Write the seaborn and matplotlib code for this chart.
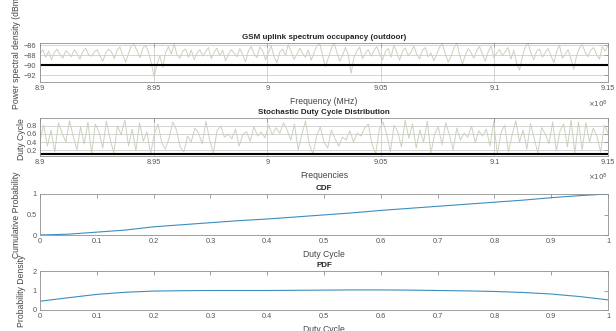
import numpy as np
import pandas as pd
import matplotlib
matplotlib.use("Agg")
import matplotlib.pyplot as plt
import seaborn as sns

# Measured power spectral density across the GSM uplink band (dBm)
psd_dbm = [
    -87.8, -86.9, -88.4, -87.2, -88.9, -87.5, -86.8, -87.9, -88.6, -87.1, -87.6, -88.3, -86.9, -87.7, -88.8, -87.3, -86.6, -87.9, -88.2, -87.4,
    -86.9, -88.1, -89.2, -87.6, -86.8, -87.3, -88.7, -87.0, -86.4, -88.0, -89.4, -87.7, -86.2, -85.9, -87.1, -88.5, -86.7, -86.0, -87.4, -89.6,
    -92.3, -89.8, -88.1, -90.4, -87.5, -86.3, -87.8, -85.8, -87.9, -88.6, -87.2, -86.8, -88.4, -87.0, -88.9, -87.6, -86.9, -88.2, -87.3, -86.5,
    -88.7, -87.4, -86.6, -88.1, -87.0, -89.1, -87.8, -86.9, -87.6, -88.3, -86.7, -87.9, -89.3, -87.2, -86.3, -87.7, -88.5, -86.4, -87.1, -88.9,
    -87.6, -86.1, -88.3, -89.5, -87.4, -86.8, -88.0, -85.9, -87.3, -88.8, -87.9, -86.6, -87.7, -88.4, -87.0, -89.0, -87.5, -86.2, -85.7, -88.1,
    -90.3, -88.6, -86.8, -85.6, -87.4, -89.2, -88.0, -86.5, -87.9, -91.6, -88.4, -87.2, -86.4, -88.7, -87.6, -86.9, -88.2, -87.1, -86.3, -87.8,
    -88.9, -87.3, -86.7, -88.4, -86.0, -87.5, -89.0, -87.2, -86.6, -88.1, -87.4, -86.2, -87.9, -88.7, -87.0, -86.5, -88.3, -87.6, -89.1, -87.8,
    -86.4, -85.8, -87.7, -89.4, -88.2, -86.6, -85.6, -87.9, -89.8, -88.0, -86.7, -87.5, -88.6, -87.1, -86.3, -87.8, -89.2, -87.4, -86.1, -88.5,
    -87.6, -86.9, -88.1, -87.3, -86.5, -88.8, -87.0, -89.6, -91.0, -88.3, -86.4, -85.6, -87.6, -88.9, -87.2, -86.8, -88.4, -87.5, -86.7, -88.0,
    -89.5, -87.3, -86.0, -88.6, -87.8, -86.9, -88.7, -90.8, -88.1, -86.6, -85.9, -87.4, -88.3, -87.0, -86.5, -87.9, -88.8, -86.3, -87.2, -86.0,
]

# Per-channel duty cycle estimates
duty_cycle = [
    0.45, 0.82, 0.30, 0.70, 0.15, 0.88, 0.62, 0.40, 0.93, 0.55, 0.20, 0.78, 0.35, 0.90, 0.10, 0.85, 0.65, 0.25, 0.92, 0.48,
    0.12, 0.80, 0.58, 0.95, 0.30, 0.72, 0.18, 0.88, 0.42, 0.65, 0.10, 0.60, 0.85, 0.38, 0.22, 0.50, 0.90, 0.70, 0.28, 0.15,
    0.55, 0.40, 0.75, 0.62, 0.35, 0.92, 0.45, 0.12, 0.68, 0.80, 0.52, 0.60, 0.48, 0.72, 0.30, 0.58, 0.66, 0.42, 0.78, 0.55,
    0.65, 0.50, 0.82, 0.58, 0.76, 0.62, 0.88, 0.70, 0.45, 0.85, 0.20, 0.60, 0.92, 0.35, 0.10, 0.55, 0.78, 0.40, 0.25, 0.70,
    0.48, 0.30, 0.52, 0.45, 0.68, 0.40, 0.62, 0.55, 0.75, 0.85, 0.35, 0.10, 0.72, 0.90, 0.60, 0.15, 0.82, 0.65, 0.28, 0.94,
    0.50, 0.85, 0.25, 0.70, 0.40, 0.92, 0.12, 0.60, 0.78, 0.33, 0.88, 0.58, 0.20, 0.75, 0.45, 0.62, 0.52, 0.80, 0.38, 0.68,
    0.55, 0.72, 0.30, 0.90, 0.10, 0.64, 0.82, 0.15, 0.58, 0.93, 0.40, 0.70, 0.22, 0.86, 0.48, 0.12, 0.76, 0.60, 0.35, 0.90,
    0.18, 0.68, 0.85, 0.28, 0.95, 0.12, 0.90, 0.20, 0.88, 0.40, 0.75, 0.55, 0.15, 0.82, 0.62,
]

psd_threshold = -90.0
duty_threshold = 0.1

# Empirical CDF / PDF of the duty cycle
dc_grid = [0.00, 0.05, 0.10, 0.15, 0.20, 0.25, 0.30, 0.35, 0.40, 0.45, 0.50,
           0.55, 0.60, 0.65, 0.70, 0.75, 0.80, 0.85, 0.90, 0.95, 1.00]
cdf_vals = [0.00, 0.02, 0.07, 0.12, 0.20, 0.25, 0.30, 0.35, 0.39, 0.44, 0.49,
            0.54, 0.60, 0.65, 0.70, 0.75, 0.80, 0.85, 0.91, 0.96, 1.00]
pdf_vals = [0.45, 0.63, 0.80, 0.91, 0.97, 0.99, 1.00, 1.00, 1.00, 1.01, 1.02,
            1.03, 1.03, 1.02, 1.00, 0.98, 0.95, 0.90, 0.82, 0.69, 0.52]

freq_ticks = [8.9e8, 8.95e8, 9.0e8, 9.05e8, 9.1e8, 9.15e8]
freq_tick_labels = ["8.9", "8.95", "9", "9.05", "9.1", "9.15"]
dc_ticks = [0, 0.1, 0.2, 0.3, 0.4, 0.5, 0.6, 0.7, 0.8, 0.9, 1]
dc_tick_labels = ["0", "0.1", "0.2", "0.3", "0.4", "0.5", "0.6", "0.7", "0.8", "0.9", "1"]

sns.set_style("white")
plt.rcParams["font.family"] = ["Liberation Sans", "DejaVu Sans"]

W, H = 616, 331
fig = plt.figure(figsize=(W / 100, H / 100), dpi=100)


def add_axes(top_px, bottom_px, left_px=40, right_px=608):
    return fig.add_axes([left_px / W, 1 - bottom_px / H,
                         (right_px - left_px) / W, (bottom_px - top_px) / H])


ax1 = add_axes(43, 82)
ax2 = add_axes(118, 156)
ax3 = add_axes(194, 235)
ax4 = add_axes(271, 310)

trace_color = "#c9d3bd"
curve_color = "#3b8fbf"
spine_color = "#8f8f8f"
tick_color = "#555555"

df_psd = pd.DataFrame({"freq": np.linspace(8.9e8, 9.15e8, len(psd_dbm)), "psd": psd_dbm})
df_dc = pd.DataFrame({"freq": np.linspace(8.9e8, 9.15e8, len(duty_cycle)), "dc": duty_cycle})
df_dist = pd.DataFrame({"dc": dc_grid, "cdf": cdf_vals, "pdf": pdf_vals})

sns.lineplot(data=df_psd, x="freq", y="psd", ax=ax1, color=trace_color, lw=0.7)
ax1.axhline(psd_threshold, color="black", lw=1.5)
sns.lineplot(data=df_dc, x="freq", y="dc", ax=ax2, color=trace_color, lw=0.7)
ax2.axhline(duty_threshold, color="black", lw=1.5)
sns.lineplot(data=df_dist, x="dc", y="cdf", ax=ax3, color=curve_color, lw=0.8)
sns.lineplot(data=df_dist, x="dc", y="pdf", ax=ax4, color=curve_color, lw=0.8)

ax1.set_ylim(-93.3, -85.6)
ax1.set_yticks([-92, -90, -88, -86])
ax2.set_ylim(0.05, 1.0)
ax2.set_yticks([0.2, 0.4, 0.6, 0.8])
ax3.set_ylim(0, 1)
ax3.set_yticks([0, 0.5, 1])
ax3.set_yticklabels(["0", "0.5", "1"])
ax4.set_ylim(0, 2)
ax4.set_yticks([0, 1, 2])

for ax in (ax1, ax2):
    ax.set_xlim(8.9e8, 9.15e8)
    ax.set_xticks(freq_ticks)
    ax.set_xticklabels(freq_tick_labels)
    ax.grid(True, color="#c4c4c4", lw=0.5)
    ax.set_axisbelow(True)
for ax in (ax3, ax4):
    ax.set_xlim(0, 1)
    ax.set_xticks(dc_ticks)
    ax.set_xticklabels(dc_tick_labels)
    ax.grid(False)

for ax in (ax1, ax2, ax3, ax4):
    ax.tick_params(direction="in", top=True, right=True, length=3, width=0.6,
                   labelsize=5.3, colors=spine_color, labelcolor=tick_color, pad=2.5)
    for s in ax.spines.values():
        s.set_color(spine_color)
        s.set_linewidth(0.6)
    ax.set_xlabel("")
    ax.set_ylabel("")

title_kw = dict(fontsize=5.8, fontweight="bold", pad=3)
ax1.set_title("GSM uplink spectrum occupancy (outdoor)", **title_kw)
ax2.set_title("Stochastic Duty Cycle Distribution", **title_kw)
ax3.set_title("CDF", **title_kw)
ax4.set_title("PDF", **title_kw)

label_kw = dict(fontsize=6.2, color="#444444")
ax1.set_xlabel("Frequency (MHz)", labelpad=3, **label_kw)
ax2.set_xlabel("Frequencies", labelpad=3, **label_kw)
ax3.set_xlabel("Duty Cycle", labelpad=3, **label_kw)
ax4.set_xlabel("Duty Cycle", labelpad=3, **label_kw)

ax1.set_ylabel("Power spectral density (dBm)", **label_kw)
ax2.set_ylabel("Duty Cycle", **label_kw)
ax3.set_ylabel("Cumulative Probability", **label_kw)
ax4.set_ylabel("Probability Density", **label_kw)
ax1.yaxis.set_label_coords(-0.034, 0.78)
ax2.yaxis.set_label_coords(-0.025, 0.45)
ax3.yaxis.set_label_coords(-0.034, 0.5)
ax4.yaxis.set_label_coords(-0.025, 0.5)

for ax in (ax1, ax2):
    ax.text(1.0, -0.42, r"$\times10^{8}$", transform=ax.transAxes,
            ha="right", va="top", fontsize=5, color=tick_color)

fig.savefig("out.png", dpi=100, facecolor="white")
